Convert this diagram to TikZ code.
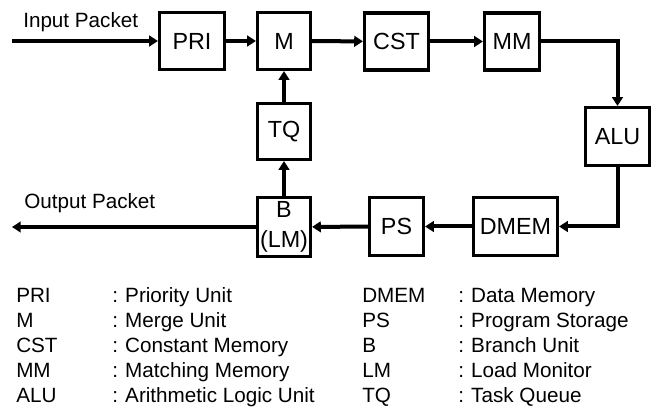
\documentclass[tikz,border=0pt]{standalone}
\usepackage{fontspec}
\setmainfont{Liberation Sans}
\usetikzlibrary{arrows.meta}
\begin{document}
\begin{tikzpicture}[x=0.75pt,y=-0.75pt,
  unitbox/.style={draw,line width=2.4pt,inner sep=0pt,font=\fontsize{17.5}{22}\selectfont,align=center},
  conn/.style={line width=3pt,-{Triangle[length=6.5pt,width=8pt]}},
  lbl/.style={font=\fontsize{15.5}{18}\selectfont,anchor=base west,inner sep=0pt},
  leg/.style={font=\fontsize{15.5}{18}\selectfont,anchor=base west,inner sep=0pt}]
\useasboundingbox (0,0) rectangle (658,410);
% boxes
\node[unitbox,minimum width=48.75pt,minimum height=42.75pt] (PRI) at (192,41) {PRI};
\node[unitbox,minimum width=39.75pt,minimum height=42.75pt] (M) at (284,41) {M};
\node[unitbox,minimum width=48pt,minimum height=42.75pt] (CST) at (396.5,41.5) {CST};
\node[unitbox,minimum width=41.25pt,minimum height=42.75pt] (MM) at (512,41.5) {MM};
\node[unitbox,minimum width=48pt,minimum height=43.5pt] (ALU) at (617.5,136.5) {ALU};
\node[unitbox,minimum width=63pt,minimum height=43.5pt] (DMEM) at (515.5,226.5) {DMEM};
\node[unitbox,minimum width=40.5pt,minimum height=43.5pt] (PS) at (396.5,226.5) {PS};
\node[unitbox,minimum width=39.75pt,minimum height=44.25pt] (B) at (284,227) {B\\(LM)};
\node[unitbox,minimum width=39.75pt,minimum height=42pt] (TQ) at (284,131.5) {TQ};
% free ends
\coordinate (in) at (12,41);
\coordinate (out) at (12,227);
% connectors
\draw[conn] (in) -- (PRI.west);
\draw[conn] (PRI) -- (M);
\draw[conn] (M) -- (CST);
\draw[conn] (CST) -- (MM);
\draw[conn] (MM.east) -| (ALU.north);
\draw[conn] (ALU.south) |- (DMEM.east);
\draw[conn] (DMEM) -- (PS);
\draw[conn] (PS) -- (B);
\draw[conn] (B.west) -- (out);
\draw[conn] (B) -- (TQ);
\draw[conn] (TQ) -- (M);
% labels
\node[lbl] (inlbl) at (23,28) {Input Packet};
\node[lbl] (outlbl) at (24,209) {Output Packet};
% legend
\node[leg] (a1) at (16,302) {PRI};  \node[leg] (b1) at (112,302) {:\hspace{0.35em}Priority Unit};
\node[leg] (a2) at (16,327) {M};    \node[leg] (b2) at (112,327) {:\hspace{0.35em}Merge Unit};
\node[leg] (a3) at (16,352) {CST};  \node[leg] (b3) at (112,352) {:\hspace{0.35em}Constant Memory};
\node[leg] (a4) at (16,377) {MM};   \node[leg] (b4) at (112,377) {:\hspace{0.35em}Matching Memory};
\node[leg] (a5) at (16,402) {ALU};  \node[leg] (b5) at (112,402) {:\hspace{0.35em}Arithmetic Logic Unit};
\node[leg] (c1) at (362,302) {DMEM}; \node[leg] (d1) at (458,302) {:\hspace{0.35em}Data Memory};
\node[leg] (c2) at (362,327) {PS};   \node[leg] (d2) at (458,327) {:\hspace{0.35em}Program Storage};
\node[leg] (c3) at (362,352) {B};    \node[leg] (d3) at (458,352) {:\hspace{0.35em}Branch Unit};
\node[leg] (c4) at (362,377) {LM};   \node[leg] (d4) at (458,377) {:\hspace{0.35em}Load Monitor};
\node[leg] (c5) at (362,402) {TQ};   \node[leg] (d5) at (458,402) {:\hspace{0.35em}Task Queue};
\end{tikzpicture}
\end{document}
